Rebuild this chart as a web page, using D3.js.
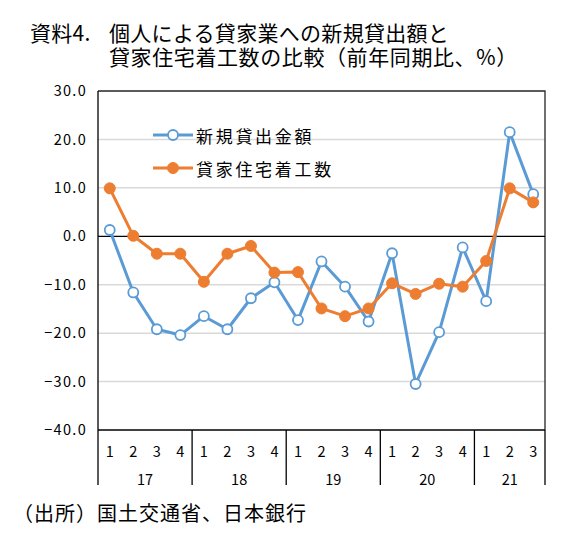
<!DOCTYPE html>
<html><head><meta charset="utf-8">
<script src="https://cdn.jsdelivr.net/npm/d3@7"></script>
<style>
html,body{margin:0;padding:0;background:#fff;}
svg{display:block;}
text{font-family:"Noto Sans CJK JP","Noto Sans",sans-serif;fill:#000;}
</style></head>
<body>
<script>
// ---- data ----
const quarters = ["1","2","3","4","1","2","3","4","1","2","3","4","1","2","3","4","1","2","3"];
const years = ["17","18","19","20","21"];
const yearCounts = [4,4,4,4,3];
const lendingNew = [1.3,-11.6,-19.2,-20.4,-16.5,-19.2,-12.8,-9.5,-17.3,-5.2,-10.4,-17.6,-3.5,-30.5,-19.8,-2.3,-13.4,21.5,8.7];
const rentalStarts = [9.9,0.1,-3.6,-3.6,-9.4,-3.6,-2.0,-7.5,-7.4,-14.9,-16.5,-14.9,-9.7,-11.9,-9.8,-10.4,-5.1,9.9,7.0];
const yTicks = [30,20,10,0,-10,-20,-30,-40];
const seriesNames = ["新規貸出金額","貸家住宅着工数"];
const titleLine1a = "資料4.";
const titleLine1b = "個人による貸家業への新規貸出額と";
const titleLine2 = "貸家住宅着工数の比較（前年同期比、%）";
const sourceText = "（出所）国土交通省、日本銀行";

const W = 582, H = 552;
const L = 98, R = 545, T = 91, B = 430;
const BLUE = "#5B9BD5", ORANGE = "#ED7D31";

const svg = d3.select("body").append("svg").attr("width", W).attr("height", H);

const x = d3.scaleBand().domain(d3.range(quarters.length)).range([L, R]).paddingInner(0).paddingOuter(0);
const y = d3.scaleLinear().domain([-40, 30]).range([B, T]);
const cx = i => x(i) + x.bandwidth() / 2;

// title
const TF = "'Liberation Sans','Noto Sans CJK JP',sans-serif";
svg.append("text").attr("font-family", TF).attr("x", 30).attr("y", 40.5).attr("font-size", 21).attr("letter-spacing", 0.3).text(titleLine1a);
svg.append("text").attr("font-family", TF).attr("x", 109).attr("y", 40.5).attr("font-size", 21).attr("letter-spacing", 0.3).text(titleLine1b);
svg.append("text").attr("font-family", TF).attr("x", 109).attr("y", 64.5).attr("font-size", 21).attr("letter-spacing", 0.6).text(titleLine2);

// gridlines
svg.append("g").selectAll("line").data(yTicks.filter(v => v !== 0 && v !== 30 && v !== -40)).join("line")
  .attr("x1", L).attr("x2", R).attr("y1", d => y(d)).attr("y2", d => y(d))
  .attr("stroke", "#d9d9d9").attr("stroke-width", 1.5);

// plot border (top, right)
svg.append("path").attr("d", `M${L},${y(30)}H${R}V${B}`).attr("fill", "none").attr("stroke", "#262626").attr("stroke-width", 1.3);

// y axis
const yAxis = svg.append("g").attr("transform", `translate(${L},0)`)
  .call(d3.axisLeft(y).tickValues(yTicks).tickSize(0).tickPadding(11).tickFormat(d3.format(".1f")));
yAxis.select(".domain").remove();
yAxis.selectAll("text").attr("font-family", "'Noto Sans CJK JP',sans-serif").attr("font-size", 14.5).attr("letter-spacing", 1.3).attr("fill", "#000");
svg.append("line").attr("x1", L).attr("x2", L).attr("y1", y(30)).attr("y2", 485).attr("stroke", "#000").attr("stroke-width", 1.3);

// zero line
svg.append("line").attr("x1", L).attr("x2", R).attr("y1", y(0)).attr("y2", y(0)).attr("stroke", "#000").attr("stroke-width", 1.2);

// category axis
svg.append("line").attr("x1", L).attr("x2", R).attr("y1", B).attr("y2", B).attr("stroke", "#000").attr("stroke-width", 1.3);
const xAxis = svg.append("g").attr("transform", `translate(0,${B})`)
  .call(d3.axisBottom(x).tickSize(0).tickPadding(0).tickFormat(i => quarters[i]));
xAxis.select(".domain").remove();
xAxis.selectAll("text").attr("font-family", "'Noto Sans CJK JP',sans-serif").attr("font-size", 14.5).attr("fill", "#000")
  .attr("dy", null).attr("y", 20).attr("dominant-baseline", "central");

// year groups
let start = 0;
const groups = yearCounts.map((n, k) => { const g = {label: years[k], s: start, e: start + n}; start += n; return g; });
groups.forEach(g => {
  const x0 = x(g.s), x1 = g.e < quarters.length ? x(g.e) : R;
  svg.append("line").attr("x1", x1).attr("x2", x1).attr("y1", B).attr("y2", 485).attr("stroke", "#000").attr("stroke-width", 1.3);
  svg.append("text").attr("x", (x0 + x1) / 2).attr("y", B + 48).attr("text-anchor", "middle")
    .attr("dominant-baseline", "central").attr("font-family", "'Noto Sans CJK JP',sans-serif").attr("font-size", 14.5).text(g.label);
});

// series
const line = d3.line().x((d, i) => cx(i)).y(d => y(d));
svg.append("path").datum(lendingNew).attr("d", line).attr("fill", "none").attr("stroke", BLUE).attr("stroke-width", 3).attr("stroke-linejoin", "round");
svg.append("g").selectAll("circle").data(lendingNew).join("circle")
  .attr("cx", (d, i) => cx(i)).attr("cy", d => y(d)).attr("r", 5).attr("fill", "#fff").attr("stroke", BLUE).attr("stroke-width", 1.8);
svg.append("path").datum(rentalStarts).attr("d", line).attr("fill", "none").attr("stroke", ORANGE).attr("stroke-width", 3).attr("stroke-linejoin", "round");
svg.append("g").selectAll("circle").data(rentalStarts).join("circle")
  .attr("cx", (d, i) => cx(i)).attr("cy", d => y(d)).attr("r", 5.5).attr("fill", ORANGE).attr("stroke", ORANGE).attr("stroke-width", 1);

// legend
const leg = [{name: seriesNames[0], c: BLUE, open: true, ly: 135}, {name: seriesNames[1], c: ORANGE, open: false, ly: 168}];
leg.forEach(d => {
  svg.append("line").attr("x1", 153).attr("x2", 193).attr("y1", d.ly).attr("y2", d.ly).attr("stroke", d.c).attr("stroke-width", 3);
  svg.append("circle").attr("cx", 173).attr("cy", d.ly).attr("r", d.open ? 5 : 5.5).attr("fill", d.open ? "#fff" : d.c).attr("stroke", d.c).attr("stroke-width", d.open ? 1.8 : 1);
  svg.append("text").attr("x", 196).attr("y", d.ly).attr("dominant-baseline", "central").attr("font-size", 17).attr("letter-spacing", 2.7).text(d.name);
});

// source
svg.append("text").attr("x", 13).attr("y", 521).attr("font-size", 20).attr("letter-spacing", 1).text(sourceText);
</script>
</body></html>
